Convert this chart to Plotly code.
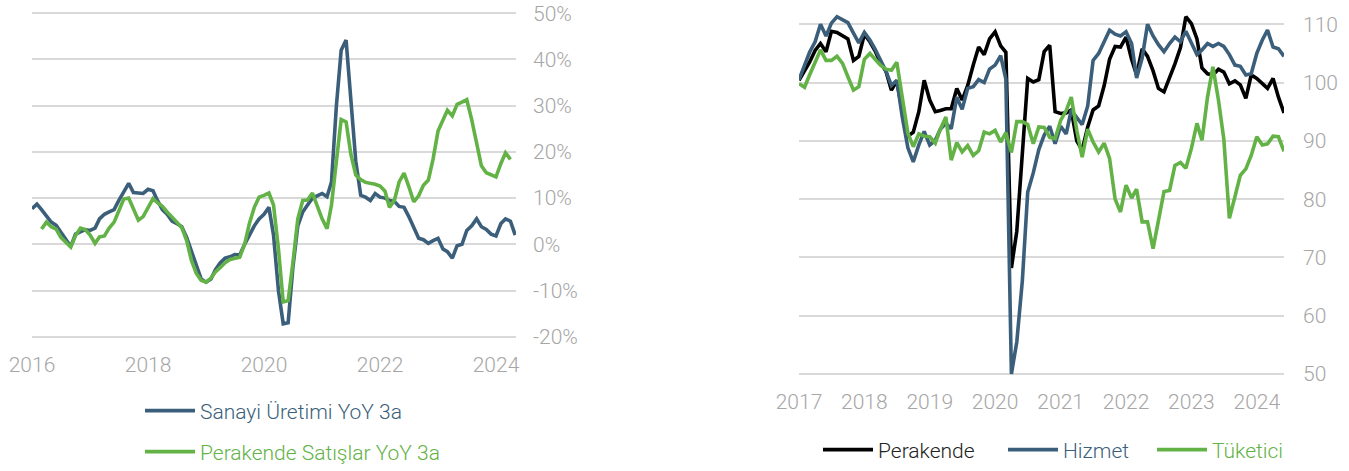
import pandas as pd
import plotly.graph_objects as go

# ---------------- Left chart data (monthly, YoY 3m avg, %) ----------------
left_start = "2016-01-01"
sanayi = [7.7, 8.7, 7.5, 6.0, 4.8, 4.1, 2.5, 1.0, -0.5, 2.2, 2.8, 3.2,
          3.0, 3.5, 5.5, 6.5, 7.0, 7.5, 9.5, 11.5, 13.2, 11.2, 11.0, 11.0,
          11.9, 11.6, 9.5, 7.5, 6.5, 5.0, 4.5, 3.8, 1.5, -1.5, -5.0, -7.5,
          -8.2, -7.5, -5.5, -4.0, -3.0, -2.7, -2.2, -2.3, 0.0, 2.0, 4.0, 5.5,
          6.5, 8.0, 2.0, -10.0, -17.2, -17.0, -5.0, 4.0, 7.0, 8.5, 10.0, 10.5,
          11.0, 10.3, 13.5, 30.0, 42.0, 44.2, 30.0, 18.0, 10.6, 10.2, 9.5, 11.0,
          10.2, 10.0, 9.5, 9.3, 8.2, 8.0, 6.0, 3.5, 1.3, 1.0, 0.2, 0.8,
          1.3, -1.0, -1.6, -3.0, -0.3, 0.0, 3.0, 4.0, 5.5, 3.8, 3.2, 2.2,
          1.8, 4.5, 5.5, 5.0, 2.0]
perakende_sat = [None, None, 3.3, 4.8, 3.8, 3.3, 1.5, 0.5, -0.6, 1.9, 3.5, 3.2,
                 2.0, 0.2, 1.6, 1.8, 3.5, 4.8, 7.5, 9.8, 10.0, 7.5, 5.2, 6.0,
                 8.0, 9.9, 9.0, 8.2, 7.0, 6.0, 4.8, 3.6, 0.8, -3.5, -6.3, -7.8,
                 -8.2, -7.3, -6.0, -5.0, -4.0, -3.3, -3.0, -2.8, 0.0, 4.5, 8.0, 10.2,
                 10.6, 11.1, 8.5, -1.0, -12.5, -12.2, -4.0, 5.5, 9.5, 9.6, 11.1, 8.3,
                 5.5, 3.4, 8.5, 18.0, 27.0, 26.5, 19.5, 15.0, 14.0, 13.4, 13.2, 13.0,
                 12.6, 11.5, 8.0, 9.5, 13.5, 15.4, 12.5, 9.2, 10.5, 12.8, 13.9, 18.5,
                 24.5, 27.0, 29.0, 27.8, 30.3, 30.8, 31.3, 27.0, 22.0, 17.0, 15.5, 15.0,
                 14.6, 17.5, 19.8, 18.4]
left_ticks = [-20, -10, 0, 10, 20, 30, 40, 50]
left_tick_text = ["-20%", "-10%", "0%", "10%", "20%", "30%", "40%", "50%"]

# ---------------- Right chart data (monthly confidence indices) ----------------
right_start = "2017-01-01"
perakende = [100.4, 102.0, 103.5, 105.5, 106.7, 105.3, 108.8, 108.6, 108.0, 107.5, 103.8, 104.5,
             108.3, 107.0, 105.5, 103.4, 102.0, 98.7, 100.3, 95.0, 90.8, 91.5, 95.0, 100.4,
             97.0, 95.0, 95.2, 95.5, 95.5, 99.0, 97.0, 99.5, 103.0, 106.1, 104.8, 107.5,
             108.7, 106.3, 105.2, 68.2, 74.5, 88.0, 100.7, 100.1, 100.5, 105.3, 106.4, 95.0,
             94.7, 94.8, 95.3, 90.0, 88.4, 92.4, 95.3, 96.0, 99.5, 104.0, 106.2, 106.1,
             107.8, 104.0, 101.3, 105.8, 104.5, 102.0, 99.0, 98.4, 100.8, 103.2, 106.0, 111.3,
             110.1, 107.5, 102.5, 101.5, 101.3, 102.3, 101.8, 99.8, 100.3, 99.6, 97.3, 101.3,
             100.7, 99.9, 99.0, 100.7, 97.5, 94.8]
hizmet = [100.5, 103.0, 105.2, 107.0, 110.0, 108.0, 110.2, 111.3, 110.8, 110.3, 108.5, 106.8,
          108.6, 107.3, 105.8, 103.8, 102.0, 99.5, 100.4, 94.0, 88.8, 86.4, 89.3, 91.6,
          89.3, 90.1, 92.0, 93.0, 92.1, 97.5, 95.4, 99.0, 99.3, 100.5, 100.0, 102.3,
          103.0, 104.6, 100.6, 50.0, 55.5, 66.0, 81.2, 84.5, 88.5, 91.0, 92.5, 89.5,
          92.5, 91.2, 95.3, 94.0, 92.8, 96.0, 103.8, 105.0, 107.0, 109.0, 108.3, 108.0,
          108.7, 106.7, 100.8, 104.2, 110.0, 108.0, 106.5, 105.3, 106.7, 107.8, 107.0, 108.8,
          106.8, 104.8, 105.6, 106.7, 106.2, 106.7, 106.2, 104.8, 103.0, 102.8, 101.3, 101.5,
          105.0, 107.3, 109.0, 106.1, 105.8, 104.5]
tuketici = [99.8, 99.2, 101.3, 103.5, 105.6, 103.8, 103.8, 104.5, 103.3, 101.0, 98.7, 99.3,
            104.0, 105.0, 104.0, 103.0, 102.3, 102.1, 103.5, 97.5, 91.3, 89.0, 91.2, 90.8,
            90.7, 89.6, 92.0, 94.1, 86.7, 89.7, 88.1, 89.2, 87.5, 88.3, 91.5, 91.2,
            91.8, 89.8, 91.4, 88.0, 93.3, 93.3, 92.8, 89.5, 92.4, 92.3, 90.6, 90.4,
            93.5, 95.2, 97.5, 91.8, 87.2, 92.0, 89.8, 88.1, 89.6, 87.0, 80.0, 77.8,
            82.4, 80.2, 81.7, 76.1, 76.1, 71.5, 76.5, 81.3, 81.5, 85.8, 86.3, 85.3,
            88.7, 93.0, 90.1, 97.5, 102.7, 97.0, 90.3, 76.7, 80.4, 84.1, 85.2, 87.5,
            90.7, 89.3, 89.5, 90.8, 90.7, 88.2]
right_ticks = [50, 60, 70, 80, 90, 100, 110]

BLUE = "#3b5f7b"
GREEN = "#62b246"
BLACK = "#000000"
GRID = "#d9d9d9"
TICK = "#a6a6a6"
FONT = "Roboto"
W, H = 1349, 471

left_dates = pd.date_range(left_start, periods=len(sanayi), freq="MS")
right_dates = pd.date_range(right_start, periods=len(perakende), freq="MS")

fig = go.Figure()
LW = 3.6
fig.add_trace(go.Scatter(x=left_dates, y=sanayi, mode="lines", line=dict(color=BLUE, width=LW),
                         name=f"<span style='color:{BLUE}'>Sanayi Üretimi YoY 3a</span>",
                         xaxis="x", yaxis="y", legend="legend"))
fig.add_trace(go.Scatter(x=left_dates[:len(perakende_sat)], y=perakende_sat, mode="lines",
                         line=dict(color=GREEN, width=LW),
                         name=f"<span style='color:{GREEN}'>Perakende Satışlar YoY 3a</span>",
                         xaxis="x", yaxis="y", legend="legend2"))
fig.add_trace(go.Scatter(x=right_dates, y=perakende, mode="lines", line=dict(color=BLACK, width=LW),
                         name="<span style='color:#222222'>Perakende</span>",
                         xaxis="x2", yaxis="y2", legend="legend3"))
fig.add_trace(go.Scatter(x=right_dates, y=hizmet, mode="lines", line=dict(color=BLUE, width=LW),
                         name=f"<span style='color:{BLUE}'>Hizmet</span>",
                         xaxis="x2", yaxis="y2", legend="legend4"))
fig.add_trace(go.Scatter(x=right_dates, y=tuketici, mode="lines", line=dict(color=GREEN, width=LW),
                         name=f"<span style='color:{GREEN}'>Tüketici</span>",
                         xaxis="x2", yaxis="y2", legend="legend5"))

tickfont = dict(family=FONT, size=21, color=TICK, weight=300)

def px_x(p):
    return p / W

def px_y(p):
    return 1 - p / H

axis_common = dict(showline=False, zeroline=False, ticks="", tickfont=tickfont, automargin=False)

# small padding so the edge gridlines are drawn and peaks are not clipped
LPAD = 0.25   # % units on left chart
RPAD_LO = 0.25
RPAD_HI = 2.0  # room above 110 so the peaks above the top gridline show
LPX = 4.62    # px per 1% (left)
RPX = 5.833   # px per 1 index pt (right)

fig.update_layout(
    width=W, height=H,
    margin=dict(l=0, r=0, t=0, b=0, autoexpand=False),
    paper_bgcolor="white", plot_bgcolor="white",
    showlegend=True,
    xaxis=dict(domain=[px_x(32), px_x(516)], anchor="y", type="date",
               range=["2016-01-01", "2024-05-06"], tick0="2016-01-01", dtick="M24",
               tickformat="%Y", showgrid=False, ticklabelstandoff=12, **axis_common),
    yaxis=dict(domain=[px_y(336.7 + LPAD * LPX), px_y(13.3 - LPAD * LPX)], anchor="x", side="right",
               range=[-20 - LPAD, 50 + LPAD], tickvals=left_ticks, ticktext=left_tick_text,
               showgrid=True, gridcolor=GRID, gridwidth=1.5, ticklabelstandoff=16, **axis_common),
    xaxis2=dict(domain=[px_x(799), px_x(1284)], anchor="y2", type="date",
                range=["2017-01-01", "2024-06-01"], tick0="2017-01-01", dtick="M12",
                tickformat="%Y", showgrid=False, ticklabelstandoff=12, **axis_common),
    yaxis2=dict(domain=[px_y(374 + RPAD_LO * RPX), px_y(24.3 - RPAD_HI * RPX)], anchor="x2", side="right",
                range=[50 - RPAD_LO, 110 + RPAD_HI], tickvals=right_ticks,
                showgrid=True, gridcolor=GRID, gridwidth=1.5, ticklabelstandoff=18, **axis_common),
)

legend_common = dict(orientation="v", bgcolor="rgba(0,0,0,0)", borderwidth=0,
                     font=dict(family=FONT, size=21, weight=300), itemwidth=50,
                     xanchor="left", yanchor="middle")
fig.update_layout(
    legend=dict(x=px_x(140), y=px_y(411), **legend_common),
    legend2=dict(x=px_x(140), y=px_y(452), **legend_common),
    legend3=dict(x=px_x(818), y=px_y(450), **legend_common),
    legend4=dict(x=px_x(1003), y=px_y(450), **legend_common),
    legend5=dict(x=px_x(1152), y=px_y(450), **legend_common),
)

fig.write_html("out.html", config={"displayModeBar": False},
               post_script="document.body.style.margin='0';document.body.style.overflow='hidden';")
